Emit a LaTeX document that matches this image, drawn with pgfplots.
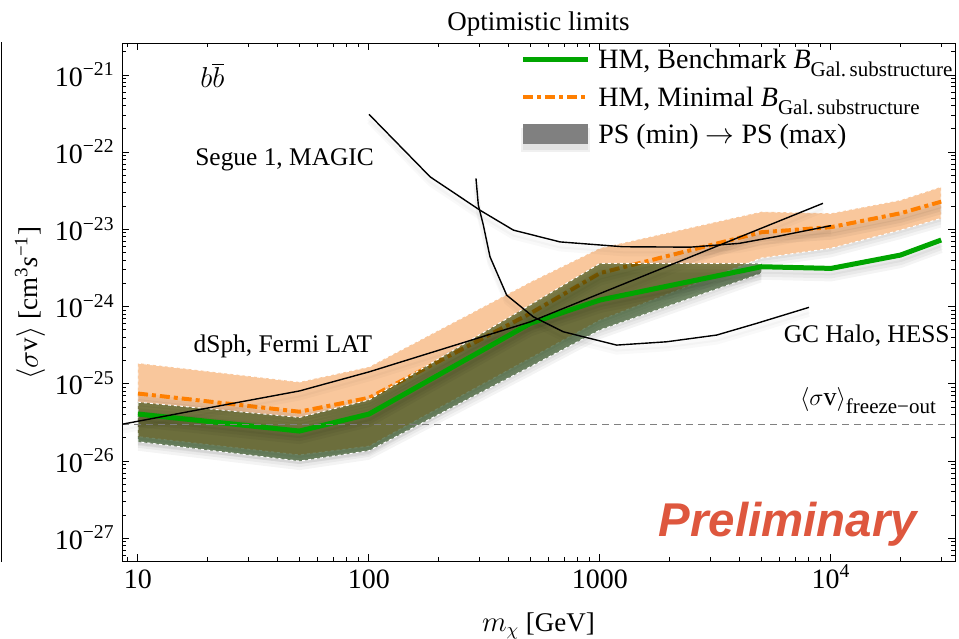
\documentclass[border=0pt]{standalone}
\usepackage{pgfplots}
\usepackage{pgfplotstable}
\pgfplotsset{compat=1.18}
\usepackage{fontspec}
\setmainfont{Liberation Serif}
\newfontfamily\prelimfont{Liberation Sans}

\definecolor{orangeband}{RGB}{249,199,156}
\definecolor{orangeline}{RGB}{255,127,0}
\definecolor{greenline}{RGB}{0,165,0}
\definecolor{greenband}{RGB}{20,60,0}
\definecolor{prelim}{RGB}{222,87,62}

\newcommand{\labfont}{\fontsize{13.5}{16}\selectfont}
\newcommand{\annfont}{\fontsize{12.7}{15}\selectfont}
\newcommand{\legfont}{\fontsize{14}{16}\selectfont}
\newcommand{\legsub}[1]{\raisebox{-0.32em}{\fontsize{10.5}{12}\selectfont #1}}

% PS (min) -> PS (max) band, minimal substructure boost (closed outline)
\pgfplotstableread{
x y
10 1.86e-25
50 1.06e-25
100 1.66e-25
500 2.09e-24
1000 5.74e-24
5000 1.70e-23
10000 1.62e-23
20000 2.40e-23
30000 3.57e-23
30000 1.39e-23
20000 9.8e-24
10000 5.7e-24
5000 4.26e-24
1000 6.7e-25
500 2.16e-25
100 1.56e-26
50 1.20e-26
10 2.07e-26
}\orangeband

% PS (min) -> PS (max) band, benchmark substructure boost (closed outline)
\pgfplotstableread{
x y
10 5.8e-26
50 3.68e-26
100 6.2e-26
500 1.06e-24
1000 3.64e-24
5000 3.64e-24
5000 2.70e-24
1000 4.98e-25
500 1.67e-25
100 1.36e-26
50 1.0e-26
10 1.78e-26
}\greenband

\pgfplotstableread{
x y
10 7.5e-26
50 4.36e-26
100 6.6e-26
500 8.2e-25
1000 2.72e-24
5000 9.2e-24
10000 1.07e-23
20000 1.62e-23
30000 2.29e-23
}\hmminimal

\pgfplotstableread{
x y
10 4.07e-26
50 2.45e-26
100 4.07e-26
500 6.1e-25
1000 1.22e-24
5000 3.29e-24
10000 3.13e-24
20000 4.66e-24
30000 7.3e-24
}\hmbenchmark

\pgfplotstableread{
x y
8.527 3.0e-26
20 4.86e-26
50 8.1e-26
100 1.43e-25
500 6.37e-25
1000 1.48e-24
9230 2.18e-23
}\fermi

\pgfplotstableread{
x y
100 3.1e-22
184 4.8e-23
302 1.78e-23
422 9.8e-24
671 6.9e-24
1260 5.97e-24
2460 5.9e-24
4000 6.6e-24
5830 8.1e-24
10000 1.12e-23
}\magic

\pgfplotstableread{
x y
290.5 4.59e-23
297.4 2.07e-23
312.6 1.14e-23
334.1 4.43e-24
394.6 1.41e-24
514.3 7.40e-25
693.6 4.73e-25
1181 3.18e-25
1944 3.51e-25
3201 4.29e-25
4769 6.08e-25
8033 9.80e-25
}\hess

\begin{document}
\begin{tikzpicture}
\useasboundingbox (-61pt,-38.5pt) rectangle (418.5pt,280.5pt);
% frame edge of the neighbouring panel
\draw[line width=0.5pt] (-60pt,-0.5pt) -- (-60pt,259.5pt);
\begin{axis}[
  name=main,
  at={(0,0)}, anchor=south west,
  scale only axis, width=416.5pt, height=259pt,
  xmode=log, ymode=log,
  xmin=8.527, xmax=34430, ymin=5.08e-28, ymax=2.597e-21,
  axis line style={line width=0.5pt},
  tick align=inside,
  major tick length=3.5pt, minor tick length=2pt,
  every tick/.style={black, line width=0.5pt},
  xtick={10,100,1000,10000},
  xticklabels={10,100,1000,10\textsuperscript{4}},
  minor xtick={9,20,30,40,50,60,70,80,90,200,300,400,500,600,700,800,900,
    2000,3000,4000,5000,6000,7000,8000,9000,20000,30000},
  ytick={1e-27,1e-26,1e-25,1e-24,1e-23,1e-22,1e-21},
  yticklabels={10\textsuperscript{−27},10\textsuperscript{−26},10\textsuperscript{−25},
    10\textsuperscript{−24},10\textsuperscript{−23},10\textsuperscript{−22},10\textsuperscript{−21}},
  minor ytick={6e-28,7e-28,8e-28,9e-28,
    2e-27,3e-27,4e-27,5e-27,6e-27,7e-27,8e-27,9e-27,
    2e-26,3e-26,4e-26,5e-26,6e-26,7e-26,8e-26,9e-26,
    2e-25,3e-25,4e-25,5e-25,6e-25,7e-25,8e-25,9e-25,
    2e-24,3e-24,4e-24,5e-24,6e-24,7e-24,8e-24,9e-24,
    2e-23,3e-23,4e-23,5e-23,6e-23,7e-23,8e-23,9e-23,
    2e-22,3e-22,4e-22,5e-22,6e-22,7e-22,8e-22,9e-22,2e-21},
  tick label style={font=\fontsize{14}{16}\selectfont},
  xticklabel style={anchor=base, yshift=-13.5pt, inner sep=0pt},
  yticklabel style={anchor=base east, xshift=-3.5pt, yshift=-5.5pt, inner sep=0pt},
  title={Optimistic limits},
  every axis title/.style={at={(0.5,1.0251)}, anchor=base, font=\labfont, inner sep=0pt},
  xlabel={$m_\chi$ [GeV]},
  xlabel style={at={(0.5,-0.1351)}, anchor=base, font=\labfont, inner sep=0pt},
  ylabel={$\langle\sigma$v$\rangle$ [cm\textsuperscript{3}\textit{s}\textsuperscript{−1}]},
  ylabel style={at={(-0.1105,0.498)}, anchor=center, font=\labfont, inner sep=0pt},
  bandshadow/.style={draw=none, fill=black, fill opacity=0.045, forget plot},
  lineshadow/.style={black, draw opacity=0.045, forget plot},
]

% PS band around the minimal-substructure curve, with its soft shadow
\pgfplotsinvokeforeach{1.5,3,4.5}{
  \addplot[bandshadow, yshift=-#1pt] table {\orangeband} -- cycle;
}
\addplot[fill=orangeband, draw=none, forget plot] table {\orangeband} -- cycle;
\addplot[white, line width=0.5pt, dash pattern=on 1.5pt off 1.5pt, forget plot] table {\orangeband} -- cycle;

% HM, minimal substructure boost
\pgfplotsinvokeforeach{1.5,3,4.5}{
  \addplot[lineshadow, line width=3.5pt, yshift=-#1pt] table {\hmminimal};
}
\addplot[orangeline, line width=2pt, dash pattern=on 5pt off 2pt on 2pt off 2pt, forget plot]
  table {\hmminimal};

% PS band around the benchmark curve
\pgfplotsinvokeforeach{1.5,3,4.5}{
  \addplot[bandshadow, yshift=-#1pt] table {\greenband} -- cycle;
}
\addplot[fill=greenband, fill opacity=0.55, draw=none, forget plot] table {\greenband} -- cycle;
\addplot[white, line width=0.5pt, dash pattern=on 1.5pt off 1.5pt, forget plot] table {\greenband} -- cycle;

% HM, benchmark substructure boost
\pgfplotsinvokeforeach{1.5,3,4.5}{
  \addplot[lineshadow, line width=4pt, yshift=-#1pt] table {\hmbenchmark};
}
\addplot[greenline, line width=2.5pt, forget plot] table {\hmbenchmark};

% thermal freeze-out cross section
\addplot[gray, line width=0.6pt, dash pattern=on 3.5pt off 2.5pt, forget plot] coordinates {
  (8.527,3e-26) (34430,3e-26)};

% experimental limits
\pgfplotsinvokeforeach{2,3.5}{
  \addplot[black, draw opacity=0.025, line width=2.5pt, yshift=-#1pt, forget plot] table {\fermi};
  \addplot[black, draw opacity=0.025, line width=2.5pt, yshift=-#1pt, forget plot] table {\magic};
  \addplot[black, draw opacity=0.025, line width=2.5pt, yshift=-#1pt, forget plot] table {\hess};
}
\addplot[black, line width=0.7pt, forget plot] table {\fermi};
\addplot[black, line width=0.7pt, forget plot] table {\magic};
\addplot[black, line width=0.7pt, forget plot] table {\hess};

% legend keys and entries
\draw[greenline, line width=2.5pt]
  (axis description cs:0.4814,0.9691) -- (axis description cs:0.5594,0.9691);
\draw[orangeline, line width=2pt, dash pattern=on 5pt off 2pt on 2pt off 2pt]
  (axis description cs:0.4814,0.8958) -- (axis description cs:0.5594,0.8958);
\fill[black, opacity=0.06] ([xshift=-1pt,yshift=-4pt]axis description cs:0.4814,0.8050)
  rectangle ([xshift=1pt,yshift=-2pt]axis description cs:0.5594,0.8436);
\fill[black, opacity=0.06] ([yshift=-3pt]axis description cs:0.4814,0.8050)
  rectangle ([yshift=-3pt]axis description cs:0.5594,0.8436);
\fill[gray] (axis description cs:0.4814,0.8050) rectangle (axis description cs:0.5594,0.8436);
\node[anchor=base west, font=\legfont, inner sep=0pt] at (axis description cs:0.5714,0.9517)
  {HM, Benchmark \textit{B}\legsub{Gal.\,substructure}};
\node[anchor=base west, font=\legfont, inner sep=0pt] at (axis description cs:0.5714,0.8784)
  {HM, Minimal \textit{B}\legsub{Gal.\,substructure}};
\node[anchor=base west, font=\legfont, inner sep=0pt] at (axis description cs:0.5714,0.8069)
  {PS (min) $\rightarrow$ PS (max)};

\node[anchor=base west, font=\fontsize{15}{18}\selectfont, inner sep=0pt] at (rel axis cs:0.0936,0.9145) {$b\overline{b}$};
\node[anchor=base west, font=\annfont, inner sep=0pt] at (rel axis cs:0.0876,0.7645) {Segue 1, MAGIC};
\node[anchor=base west, font=\annfont, inner sep=0pt] at (rel axis cs:0.0856,0.4029) {dSph, Fermi LAT};
\node[anchor=base east, font=\annfont, inner sep=0pt] at (rel axis cs:0.994,0.4228) {GC Halo, HESS};
\node[anchor=base west, font=\fontsize{13}{15}\selectfont, inner sep=0pt] at (rel axis cs:0.8135,0.301)
  {$\langle\sigma$v$\rangle$\legsub{freeze−out}};
\node[anchor=base west, inner sep=0pt, text=prelim] at (rel axis cs:0.644,0.0469)
  {\prelimfont\bfseries\itshape\fontsize{23.7}{28}\selectfont Preliminary};
\end{axis}
\end{tikzpicture}
\end{document}
